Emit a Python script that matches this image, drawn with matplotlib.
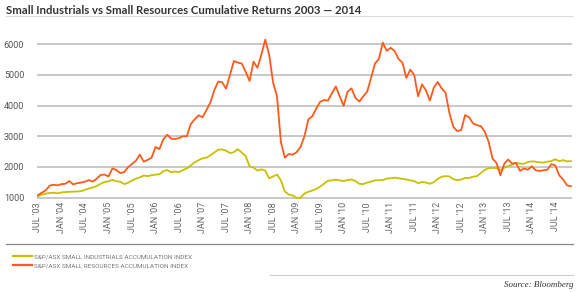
import matplotlib
matplotlib.use("Agg")
import matplotlib.pyplot as plt
from matplotlib.lines import Line2D

# monthly index levels, Jul 2003 .. Nov 2014
industrials = [
    1040, 1100, 1130, 1150, 1160, 1140, 1170, 1180, 1190, 1195, 1200, 1210,
    1250, 1300, 1330, 1380, 1450, 1510, 1530, 1580, 1530, 1520, 1440, 1480,
    1560, 1620, 1660, 1720, 1700, 1730, 1750, 1760, 1860, 1900, 1830, 1850,
    1830, 1900, 1950, 2050, 2150, 2220, 2280, 2300, 2380, 2470, 2560, 2570,
    2530, 2450, 2480, 2580, 2470, 2350, 2020, 1980, 1880, 1920, 1880, 1630,
    1690, 1750, 1560, 1200, 1100, 1070, 990, 1000, 1130, 1190, 1230, 1280,
    1360, 1450, 1550, 1560, 1590, 1560, 1540, 1570, 1590, 1540, 1450, 1440,
    1490, 1520, 1560, 1570, 1570, 1620, 1630, 1650, 1630, 1610, 1590, 1560,
    1540, 1470, 1510, 1490, 1450, 1500, 1610, 1680, 1700, 1690, 1600, 1570,
    1590, 1640, 1640, 1680, 1700, 1800, 1900, 1960, 1970, 1960, 1900, 1970,
    2030, 2070, 2130, 2110, 2100, 2160, 2180, 2170, 2150, 2140, 2170, 2190,
    2250, 2190, 2220, 2180, 2190,
]
resources = [
    1080, 1160, 1240, 1390, 1420, 1400, 1440, 1450, 1540, 1430, 1470, 1490,
    1520, 1570, 1520, 1620, 1740, 1750, 1690, 1950, 1900, 1800, 1830, 1990,
    2100, 2200, 2400, 2170, 2230, 2300, 2650, 2580, 2900, 3050, 2920, 2910,
    2940, 3000, 3000, 3400, 3550, 3680, 3620, 3850, 4100, 4500, 4780, 4760,
    4550, 5000, 5450, 5400, 5370, 5100, 4800, 5430, 5230, 5650, 6150, 5650,
    4750, 4300, 2800, 2300, 2420, 2400, 2480, 2650, 3000, 3550, 3650, 3900,
    4120, 4180, 4160, 4400, 4620, 4300, 3990, 4450, 4560, 4250, 4130, 4300,
    4450, 4900, 5370, 5520, 6050, 5780, 5880, 5780, 5520, 5400, 4900, 5170,
    5000, 4300, 4690, 4500, 4160, 4580, 4770, 4560, 4420, 3750, 3300, 3170,
    3200, 3690, 3620, 3420, 3360, 3330, 3150, 2820, 2270, 2130, 1730, 2110,
    2240, 2110, 2130, 1870, 1950, 1910, 2020, 1890, 1870, 1890, 1910, 2090,
    2050, 1730, 1590, 1400, 1370,
]
tick_labels = [
    "JUL '03", "JAN '04", "JUL '04", "JAN '05", "JUL '05", "JAN '06",
    "JUL '06", "JAN '07", "JUL '07", "JAN '08", "JUL '08", "JAN '09",
    "JUL '09", "JAN '10", "JUL '10", "JAN '11", "JUL '11", "JAN '12",
    "JUL '12", "JAN '13", "JUL '13", "JAN '14", "JUL '14",
]
y_ticks = [1000, 2000, 3000, 4000, 5000, 6000]
names = ["S&P/ASX SMALL INDUSTRIALS ACCUMULATION INDEX",
         "S&P/ASX SMALL RESOURCES ACCUMULATION INDEX"]

narrow = ["Liberation Sans Narrow", "Roboto", "DejaVu Sans"]
green = "#c8c000"
orange = "#ff5a1c"

fig = plt.figure(figsize=(5.8, 2.92), dpi=100)
fig.patch.set_facecolor("white")

ax = fig.add_axes([0.0634, 0.318, 0.923, 0.557])
months = list(range(len(industrials)))
ax.plot(months, industrials, color=green, lw=1.3, label=names[0], zorder=3)
ax.plot(months, resources, color=orange, lw=1.3, label=names[1], zorder=3)

ax.set_xlim(-0.3, 136.3)
ax.set_ylim(950, 6250)
ax.set_yticks(y_ticks)
ax.set_yticklabels([str(v) for v in y_ticks], family=narrow, fontsize=6.5, color="#555555")
ax.set_xticks(range(0, 6 * len(tick_labels), 6))
ax.set_xticklabels(tick_labels, rotation=90, family=narrow, fontsize=6.5, color="#666666")
ax.tick_params(length=0, pad=2)
ax.tick_params(axis="y", pad=9)
ax.grid(axis="y", color="#c8c8c8", lw=1.4)
ax.set_axisbelow(True)
for s in ax.spines.values():
    s.set_visible(False)

fig.text(6 / 580, 1 - 10 / 292, "Small Industrials vs Small Resources Cumulative Returns 2003 \u2014 2014",
         family=["Lato", "DejaVu Sans"], fontweight="bold", fontsize=8.2, color="#333333", va="center")
fig.add_artist(Line2D([6 / 580, 573 / 580], [1 - 16 / 292] * 2, color="#dddddd", lw=0.8))
fig.add_artist(Line2D([6 / 580, 573 / 580], [1 - 244 / 292] * 2, color="#888888", lw=0.9))
fig.add_artist(Line2D([270 / 580, 573 / 580], [1 - 275 / 292] * 2, color="#cccccc", lw=0.8))

leg = fig.legend(loc="upper left", bbox_to_anchor=(10 / 580, 1 - 251 / 292), frameon=False,
                 handlelength=3.0, handletextpad=0.3, labelspacing=0.45, borderpad=0,
                 prop={"family": narrow, "size": 4.6})
for t in leg.get_texts():
    t.set_color("#777777")
for h in leg.get_lines():
    h.set_linewidth(1.6)

fig.text(573 / 580, 1 - 285 / 292, "Source: Bloomberg", family="Liberation Serif", style="italic",
         fontsize=6.5, color="#333333", ha="right", va="center")

fig.savefig("out.png", dpi=100)
